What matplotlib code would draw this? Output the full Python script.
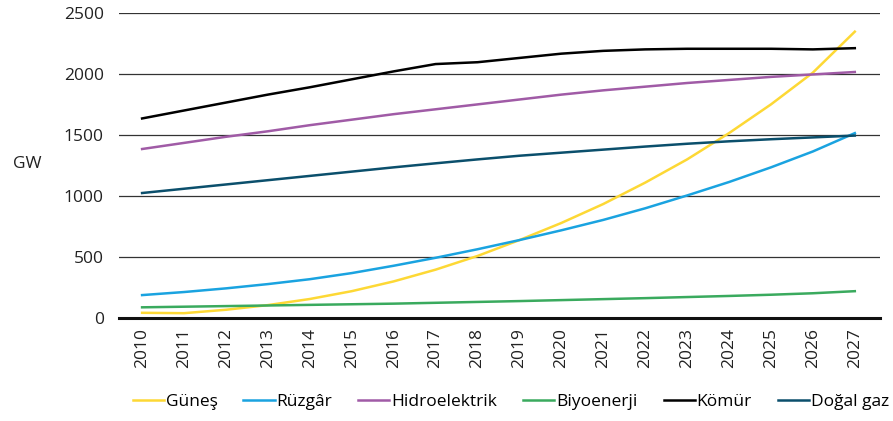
import matplotlib.pyplot as plt

years = list(range(2010, 2028))

gunes = [45, 42, 70, 108, 158, 222, 302, 398, 510, 640, 780, 935, 1110, 1300, 1515, 1750, 2010, 2345]
ruzgar = [190, 215, 245, 280, 320, 370, 430, 495, 565, 640, 720, 805, 900, 1005, 1115, 1235, 1365, 1515]
hidro = [1385, 1435, 1485, 1530, 1580, 1625, 1670, 1710, 1750, 1790, 1830, 1865, 1895, 1925, 1950, 1975, 1995, 2015]
biyo = [90, 95, 100, 105, 110, 115, 120, 127, 134, 141, 149, 157, 165, 174, 183, 193, 205, 222]
komur = [1635, 1700, 1765, 1830, 1890, 1955, 2020, 2080, 2095, 2130, 2165, 2188, 2200, 2205, 2205, 2205, 2200, 2210]
dogalgaz = [1025, 1060, 1095, 1130, 1165, 1200, 1235, 1268, 1300, 1330, 1355, 1380, 1405, 1428, 1448, 1465, 1480, 1495]

series = [
    ("Güneş", gunes, "#FDD835"),
    ("Rüzgâr", ruzgar, "#1AA3E0"),
    ("Hidroelektrik", hidro, "#A05BA6"),
    ("Biyoenerji", biyo, "#3AAA5E"),
    ("Kömür", komur, "#000000"),
    ("Doğal gaz", dogalgaz, "#0B4F6C"),
]

plt.rcParams["font.family"] = ["Open Sans", "DejaVu Sans"]
plt.rcParams["font.size"] = 12.5

fig = plt.figure(figsize=(8.93, 4.21), dpi=100)
ax = fig.add_axes([0.1333, 0.2439, 0.8521, 0.7259])

for name, vals, color in series:
    ax.plot(years, vals, color=color, linewidth=1.8, label=name)

ax.set_ylim(0, 2500)
ax.set_xlim(2009.45, 2027.6)
ax.set_yticks([0, 500, 1000, 1500, 2000, 2500])
ax.set_xticks(years)
ax.set_xticklabels([str(y) for y in years], rotation=90)
ax.tick_params(axis="both", length=0, colors="#222222")
ax.tick_params(axis="y", pad=11)
ax.tick_params(axis="x", pad=7)

ax.grid(axis="y", color="#333333", linewidth=0.9)
ax.set_axisbelow(True)
for s in ["top", "right", "left"]:
    ax.spines[s].set_visible(False)
ax.spines["bottom"].set_linewidth(2.2)
ax.spines["bottom"].set_color("#111111")
ax.spines["bottom"].set_zorder(5)

fig.text(0.03, 0.61, "GW", ha="center", va="center", color="#222222")

fig.legend(loc="center", bbox_to_anchor=(0.572, 0.045), ncol=6, frameon=False,
           handlelength=1.8, handletextpad=0.1, columnspacing=1.5)

plt.savefig("out.png", dpi=100)
